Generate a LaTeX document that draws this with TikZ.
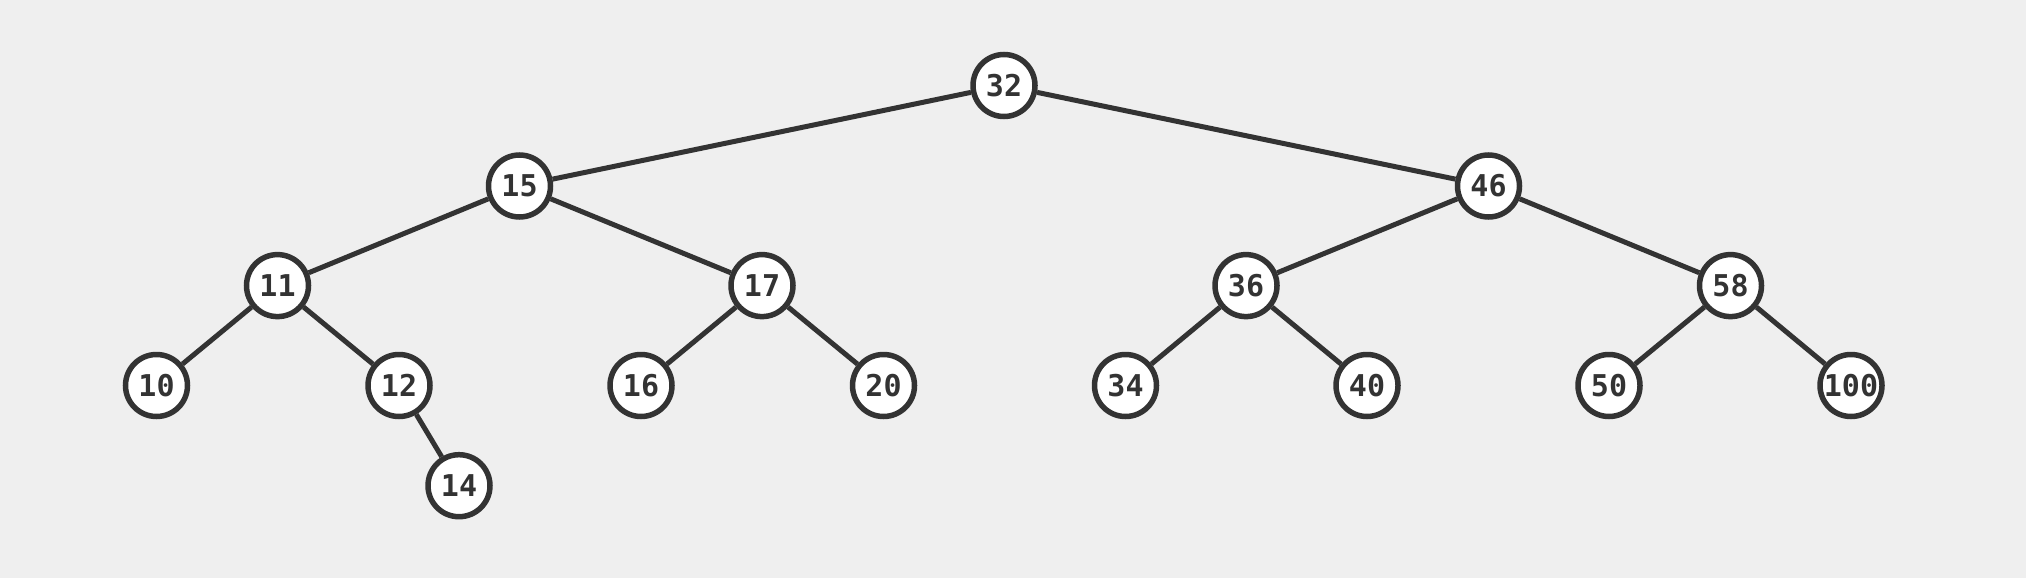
\documentclass[tikz,border=0pt]{standalone}
\usepackage{fontspec}
\newfontfamily\nodefont{DejaVu Sans Mono}
\definecolor{bg}{HTML}{EFEFEF}
\definecolor{ink}{HTML}{333333}
\begin{document}
\begin{tikzpicture}[x=1pt,y=-1pt,
  tn/.style={circle,draw=ink,fill=white,line width=5.5pt,minimum size=62pt,inner sep=0pt,
    text=ink,font=\nodefont\bfseries\fontsize{30}{30}\selectfont},
  edge/.style={draw=ink,line width=5pt}]
\fill[bg] (0,0) rectangle (2026,578);
\useasboundingbox (0,0) rectangle (2026,578);
\node[tn] (n32) at (1004,85.5) {32};
\node[tn] (n15) at (519.5,186) {15};
\node[tn] (n46) at (1488.5,186) {46};
\node[tn] (n11) at (277.5,285.6) {11};
\node[tn] (n17) at (762,285.6) {17};
\node[tn] (n36) at (1246,285.6) {36};
\node[tn] (n58) at (1730.5,285.6) {58};
\node[tn] (n10) at (156.5,385.5) {10};
\node[tn] (n12) at (399,385.5) {12};
\node[tn] (n16) at (641,385.5) {16};
\node[tn] (n20) at (883.5,385.5) {20};
\node[tn] (n34) at (1125.5,385.5) {34};
\node[tn] (n40) at (1367,385.5) {40};
\node[tn] (n50) at (1609,385.5) {50};
\node[tn] (n100) at (1851,385.5) {100};
\node[tn] (n14) at (459,485.7) {14};
\foreach \a/\b in {n32/n15,n32/n46,n15/n11,n15/n17,n46/n36,n46/n58,n11/n10,n11/n12,n12/n14,n17/n16,n17/n20,n36/n34,n36/n40,n58/n50,n58/n100}
  \draw[edge] (\a) -- (\b);
\end{tikzpicture}
\end{document}
